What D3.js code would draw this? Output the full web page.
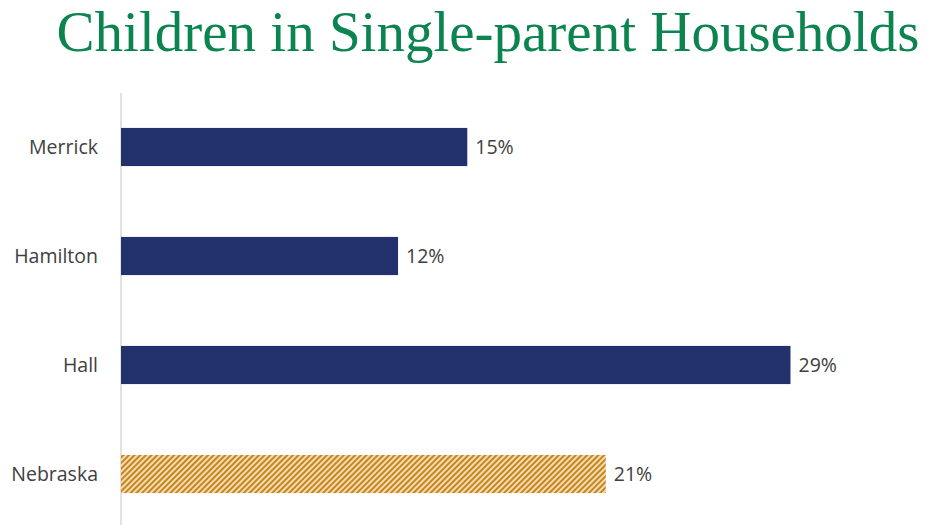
<!DOCTYPE html>
<html><head><meta charset="utf-8">
<script src="https://cdn.jsdelivr.net/npm/d3@7"></script>
<style>body{margin:0;background:#fff;} svg{display:block;}</style>
</head><body>
<script>
const categories = ["Merrick", "Hamilton", "Hall", "Nebraska"];
const values = [0.15, 0.12, 0.29, 0.21];
const valueLabels = ["15%", "12%", "29%", "21%"];
const title = "Children in Single-parent Households";

const W = 927, H = 525;
const svg = d3.select("body").append("svg").attr("width", W).attr("height", H);

const defs = svg.append("defs");
const pat = defs.append("pattern").attr("id", "hatch").attr("patternUnits", "userSpaceOnUse")
  .attr("width", 4).attr("height", 4).attr("patternTransform", "rotate(45)");
pat.append("rect").attr("width", 4).attr("height", 4).attr("fill", "#f3dcb5");
pat.append("rect").attr("x", 0).attr("width", 2).attr("height", 4).attr("fill", "#c8861a");

svg.append("text").attr("x", 488).attr("y", 51).attr("text-anchor", "middle")
  .attr("font-family", "Liberation Serif, Times New Roman, serif").attr("font-size", 57)
  .attr("fill", "#0b8450").text(title);

const x = d3.scaleLinear().domain([0, 0.35]).range([121, 929]);
const y = d3.scaleBand().domain(categories).range([92.5, 528.5]).paddingInner(0.65).paddingOuter(0.325);

svg.append("line").attr("x1", 121).attr("x2", 121).attr("y1", 93).attr("y2", H)
  .attr("stroke", "#d9d9d9").attr("stroke-width", 1.5);

svg.selectAll("rect.bar").data(categories).join("rect").attr("class", "bar")
  .attr("x", x(0)).attr("y", d => y(d)).attr("height", y.bandwidth())
  .attr("width", (d, i) => x(values[i]) - x(0))
  .attr("fill", (d, i) => d === "Nebraska" ? "url(#hatch)" : "#22306b");

const font = "'Open Sans', sans-serif";
svg.selectAll("text.cat").data(categories).join("text").attr("class", "cat")
  .attr("x", 98).attr("y", d => y(d) + y.bandwidth() / 2).attr("dy", "0.35em")
  .attr("text-anchor", "end").attr("font-family", font).attr("font-size", 19.5)
  .attr("fill", "#404040").text(d => d);

svg.selectAll("text.val").data(categories).join("text").attr("class", "val")
  .attr("x", (d, i) => x(values[i]) + 8).attr("y", d => y(d) + y.bandwidth() / 2).attr("dy", "0.35em")
  .attr("font-family", font).attr("font-size", 19.5)
  .attr("fill", "#404040").text((d, i) => valueLabels[i]);
</script>
</body></html>
